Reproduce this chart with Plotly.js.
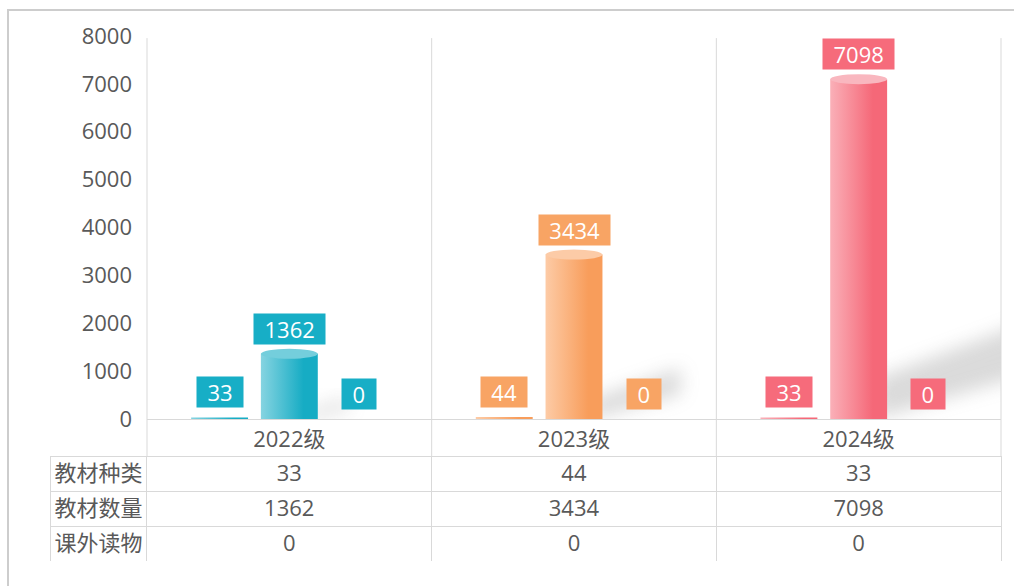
<!DOCTYPE html>
<html>
<head>
<meta charset="utf-8">
<script src="https://cdn.plot.ly/plotly-3.0.1.min.js"></script>
<style>
  html, body { margin: 0; padding: 0; overflow: hidden; background: #fff; }
  #chart { width: 1014px; height: 586px; }
  #frame { position: absolute; left: 7px; top: 9px; width: 1200px; height: 800px;
           border-top: 2px solid #cdcdcd; border-left: 2px solid #cdcdcd; pointer-events: none; }
</style>
</head>
<body>
<div id="chart"></div>
<div id="frame"></div>
<script>
// ---- data ----
const categories = ['2022级', '2023级', '2024级'];
const seriesNames = ['教材种类', '教材数量', '课外读物'];
const kinds = [33, 44, 33];
const counts = [1362, 3434, 7098];
const reading = [0, 0, 0];
const yTicks = [0, 1000, 2000, 3000, 4000, 5000, 6000, 7000, 8000];

// ---- styles ----
const labelColors = ['#17AEC6', '#F8A464', '#F66B7B'];
const gradLeft = ['#86D4E1', '#FDCBA6', '#FAB0B8'];
const gradRight = ['#16ACC4', '#F89D5B', '#F56878'];
const topColors = ['#74CEDC', '#FCCBA7', '#F9B7BF'];
const textColor = '#595959';
const lineColor = '#d9d9d9';
const FONT = "'Open Sans', 'Noto Sans CJK SC', sans-serif";
const SHADOW = 'rgb(150, 150, 150)';

const series = [kinds, counts, reading];
const catX = categories.map((c, i) => i);
const bargap = 0.265, bargroupgap = 0.184;
const slot = (1 - bargap) / series.length;
const barW = slot * (1 - bargroupgap);

const traces = series.map((vals, s) => ({
  type: 'bar', x: catX, y: vals, name: seriesNames[s],
  marker: { color: gradRight.slice(), line: { width: 0 } },
  hoverinfo: 'none', showlegend: false
}));

// table below the chart
const tableCols = [seriesNames.slice(1)].concat(categories.map((c, j) => [counts[j], reading[j]]));
traces.push({
  type: 'table',
  domain: { x: [0, 1], y: [0, 0.2] },
  columnwidth: [97, 285, 285, 285],
  header: {
    values: [seriesNames[0]].concat(kinds.map(String)),
    height: 35, align: 'center',
    line: { color: lineColor, width: 1 }, fill: { color: '#ffffff' },
    font: { family: FONT, size: 22, color: textColor }
  },
  cells: {
    values: tableCols,
    height: 35, align: 'center',
    line: { color: lineColor, width: 1 }, fill: { color: '#ffffff' },
    font: { family: FONT, size: 22, color: textColor }
  }
});

const annotations = [];
const shapes = [];
series.forEach((vals, s) => {
  vals.forEach((v, j) => {
    const xc = j + (s - (series.length - 1) / 2) * slot;
    const txt = String(v);
    annotations.push({
      x: xc, y: v, xref: 'x', yref: 'y', text: txt, showarrow: false,
      yshift: 25, bgcolor: labelColors[j], width: txt.length * 12.6 + 19, height: 28,
      font: { family: FONT, size: 22, color: '#ffffff' }
    });
    if (v > 300) {
      // soft shadow
      const xr = xc + barW / 2;
      shapes.push({
        type: 'path', xref: 'x', yref: 'y', layer: 'below',
        path: `M ${xr - 0.04},${0.0 * v} L ${xr - 0.04},${0.12 * v} L ${xr + 0.00008 * v},${0.31 * v} L ${xr + 0.00008 * v},${0.15 * v} Z`,
        fillcolor: SHADOW, opacity: 0.35, line: { width: 0 }
      });
      // cylinder top
      shapes.push({
        type: 'circle', xref: 'x', yref: 'y', ysizemode: 'pixel', yanchor: v,
        x0: xc - barW / 2, x1: xc + barW / 2, y0: -5, y1: 5,
        fillcolor: topColors[j], line: { width: 0 }, layer: 'above'
      });
    }
  });
});

// category separators through chart and label row
const plotLeft = 97 / 951;
for (let k = 0; k <= categories.length; k++) {
  const xp = plotLeft + (1 - plotLeft) * k / categories.length;
  shapes.push({
    type: 'line', xref: 'paper', yref: 'paper', x0: xp, x1: xp, y0: 0.2, y1: 0.996,
    line: { color: lineColor, width: 1 }
  });
}

const layout = {
  width: 1014, height: 586,
  margin: { l: 50, r: 13, t: 36, b: 25 },
  paper_bgcolor: 'rgba(0,0,0,0)', plot_bgcolor: 'rgba(0,0,0,0)',
  barmode: 'group', bargap: bargap, bargroupgap: bargroupgap,
  font: { family: FONT, size: 22, color: textColor },
  xaxis: {
    domain: [plotLeft, 1], range: [-0.5, 2.5], tickvals: catX, ticktext: categories,
    showline: true, linecolor: lineColor, linewidth: 1, ticks: '', showgrid: false,
    zeroline: false, fixedrange: true, ticklabelstandoff: 1,
    tickfont: { family: FONT, size: 22, color: textColor }
  },
  yaxis: {
    domain: [142 / 525, 1], range: [0, 8000], tickvals: yTicks,
    showgrid: false, zeroline: false, showline: false, ticks: '',
    ticklabelstandoff: 14, fixedrange: true,
    tickfont: { family: FONT, size: 22, color: textColor }
  },
  annotations: annotations,
  shapes: shapes
};

Plotly.newPlot('chart', traces, layout, { displayModeBar: false, staticPlot: true }).then(() => {
  const svg = document.querySelector('#chart .main-svg');
  const NS = 'http://www.w3.org/2000/svg';
  let defs = svg.querySelector('defs');
  if (!defs) { defs = document.createElementNS(NS, 'defs'); svg.insertBefore(defs, svg.firstChild); }
  categories.forEach((c, j) => {
    const g = document.createElementNS(NS, 'linearGradient');
    g.setAttribute('id', 'cylgrad' + j);
    g.setAttribute('x1', '0'); g.setAttribute('x2', '1'); g.setAttribute('y1', '0'); g.setAttribute('y2', '0');
    [[0, gradLeft[j]], [0.75, gradRight[j]], [1, gradRight[j]]].forEach(([o, col]) => {
      const st = document.createElementNS(NS, 'stop');
      st.setAttribute('offset', o); st.setAttribute('stop-color', col);
      g.appendChild(st);
    });
    defs.appendChild(g);
  });
  const f = document.createElementNS(NS, 'filter');
  f.setAttribute('id', 'shblur');
  f.setAttribute('x', '-50%'); f.setAttribute('y', '-50%'); f.setAttribute('width', '200%'); f.setAttribute('height', '200%');
  const gb = document.createElementNS(NS, 'feGaussianBlur');
  gb.setAttribute('stdDeviation', '9');
  f.appendChild(gb);
  defs.appendChild(f);

  document.querySelectorAll('#chart .barlayer .trace').forEach(tr => {
    tr.querySelectorAll('.point').forEach((pt, j) => {
      const p = pt.querySelector('path');
      if (p) p.style.fill = 'url(#cylgrad' + j + ')';
    });
  });
  document.querySelectorAll('#chart path').forEach(p => {
    const st = p.getAttribute('style') || '';
    if (st.indexOf(SHADOW) >= 0 || p.style.fill === SHADOW) {
      p.setAttribute('filter', 'url(#shblur)');
      p.style.filter = 'url(#shblur)';
    }
  });
});
</script>
</body>
</html>
